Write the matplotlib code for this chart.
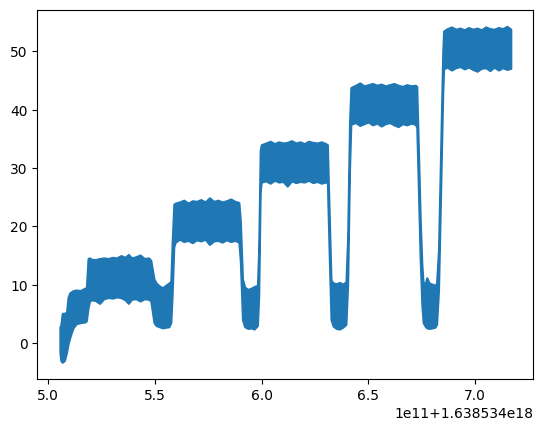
import numpy as np
import matplotlib
matplotlib.use("Agg")
import matplotlib.pyplot as plt

# time offset of the series (ns) and times in units of 1e11 ns
time_offset = 1.638534e18
time_e11 = [
    5.054, 5.058, 5.065, 5.075, 5.085, 5.092, 5.100, 5.108, 5.116, 5.130,
    5.150, 5.170, 5.178, 5.186, 5.193,
    5.200, 5.220, 5.240, 5.260, 5.280, 5.300, 5.320, 5.340, 5.360, 5.375,
    5.390, 5.410, 5.430, 5.450, 5.470, 5.480,
    5.495, 5.505, 5.520, 5.535, 5.550, 5.565, 5.574,
    5.580, 5.588,
    5.595, 5.615, 5.635, 5.655, 5.675, 5.695, 5.715, 5.735, 5.755, 5.775,
    5.795, 5.815, 5.835, 5.855, 5.875, 5.893,
    5.900, 5.910,
    5.920, 5.935, 5.950, 5.965, 5.980,
    5.986, 5.993,
    5.998, 6.020, 6.040, 6.060, 6.080, 6.100, 6.120, 6.140, 6.160, 6.180,
    6.200, 6.220, 6.240, 6.260, 6.280, 6.300, 6.308,
    6.316, 6.325,
    6.335, 6.350, 6.365, 6.380, 6.395,
    6.403, 6.412,
    6.418, 6.440, 6.460, 6.480, 6.500, 6.520, 6.540, 6.560, 6.580, 6.600,
    6.620, 6.640, 6.660, 6.680, 6.700, 6.720,
    6.727, 6.735, 6.743, 6.751,
    6.757, 6.768, 6.774, 6.785, 6.800, 6.812, 6.820,
    6.829, 6.839, 6.849,
    6.853, 6.870, 6.890, 6.910, 6.930, 6.950, 6.970, 6.990, 7.010, 7.030,
    7.050, 7.070, 7.090, 7.110, 7.130, 7.150, 7.168,
]
# lower and upper envelope of the noisy signal
signal_low = [
    -1.5, -3.0, -3.3, -3.0, -1.6, -0.2, 0.9, 1.8, 2.6, 3.3,
    3.5, 3.6, 3.8, 6.0, 7.2,
    7.4, 7.3, 6.8, 7.6, 7.8, 7.7, 7.9, 7.8, 7.4, 6.8,
    7.5, 7.6, 7.2, 7.6, 7.5, 7.2,
    3.5, 3.0, 2.8, 2.6, 2.7, 2.8, 3.5,
    8.0, 16.5,
    17.3, 17.8, 17.4, 17.6, 17.2, 17.7, 17.5, 17.8, 16.9, 17.5,
    17.6, 17.3, 17.7, 17.4, 17.6, 17.3,
    14.0, 4.0,
    2.8, 2.5, 2.6, 2.4, 3.0,
    8.0, 26.0,
    27.6, 27.8, 27.4, 27.9, 27.6, 27.7, 26.9, 27.8, 27.5, 27.7,
    27.6, 27.9, 27.5, 27.7, 27.4, 27.6, 27.5,
    16.0, 4.0,
    2.9, 2.5, 2.4, 2.7, 3.2,
    10.0, 30.0,
    37.5, 37.8, 37.3, 37.6, 37.9, 37.4, 37.7, 37.2, 37.6, 37.8,
    37.4, 37.1, 37.6, 37.4, 37.7, 37.5,
    37.0, 26.0, 14.5, 6.5,
    3.5, 2.8, 2.6, 2.5, 2.6, 2.7, 3.2,
    9.0, 26.0, 43.0,
    47.0, 47.3, 46.8, 47.2, 47.4, 47.0, 47.3, 46.9, 46.6, 47.1,
    47.2, 46.7, 47.3, 46.8, 47.2, 46.9, 47.1,
]
signal_high = [
    2.8, 3.0, 5.1, 5.1, 5.3, 7.8, 8.6, 8.8, 9.0, 9.1,
    9.0, 9.4, 9.5, 14.5, 14.6,
    14.4, 14.3, 14.5, 14.6, 14.5, 14.7, 14.6, 15.0, 14.7, 15.2,
    14.6, 14.8, 15.1, 14.5, 14.6, 14.2,
    11.0, 10.3, 9.8, 9.5, 9.9, 10.3, 10.6,
    17.0, 23.8,
    24.0, 24.2, 24.5, 24.0, 24.4, 24.3, 24.6, 24.2, 24.9, 24.3,
    24.5, 24.2, 24.4, 24.7, 24.3, 24.1,
    21.0, 11.0,
    9.6, 9.2, 9.4, 9.7, 9.9,
    16.0, 33.0,
    34.0, 34.3, 34.6, 34.2, 34.5, 34.3, 34.4, 34.7, 34.3, 34.5,
    34.2, 34.6, 34.4, 34.3, 34.5, 34.2, 34.0,
    23.0, 10.8,
    10.3, 10.2, 10.4, 10.1, 10.5,
    18.0, 38.0,
    43.8, 44.2, 44.6, 44.1, 44.3, 44.5, 44.2, 44.4, 44.1, 44.3,
    44.5, 44.2, 44.0, 44.3, 44.1, 44.2,
    44.0, 33.0, 21.5, 13.5,
    10.2, 10.4, 11.2, 10.3, 10.1, 9.9, 10.3,
    16.0, 33.0, 50.0,
    53.5, 53.9, 54.2, 53.8, 54.0, 53.7, 54.1, 53.8, 54.0, 53.7,
    54.2, 53.9, 53.8, 54.1, 53.9, 54.3, 53.8,
]

x = time_offset + np.array(time_e11) * 1e11

fig, ax = plt.subplots(figsize=(6.4, 4.8), dpi=100)
ax.fill_between(x, signal_low, signal_high, color="#1f77b4", linewidth=1.5)
fig.savefig("out.png", dpi=100, bbox_inches="tight")
